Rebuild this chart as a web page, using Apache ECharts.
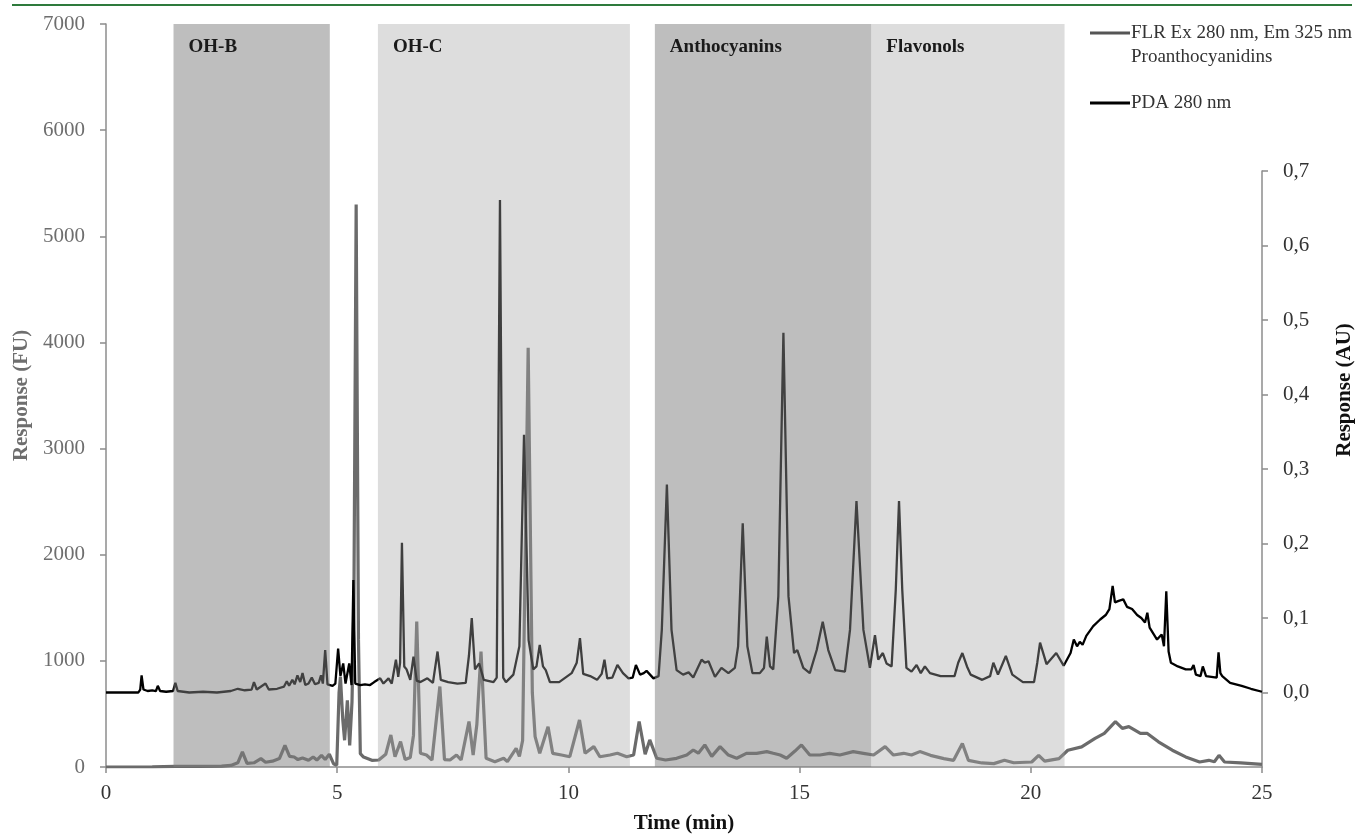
<!DOCTYPE html>
<html>
<head>
<meta charset="utf-8">
<script src="https://cdn.jsdelivr.net/npm/echarts@6/dist/echarts.min.js"></script>
<style>
  html, body { margin: 0; padding: 0; background: #fff; }
  #chart { width: 1364px; height: 839px; }
</style>
</head>
<body>
<div id="chart"></div>
<script>
// --- data ---
const bandNames = ['OH-B', 'OH-C', 'Anthocyanins', 'Flavonols'];
const bandStart = [1.46, 5.88, 11.87, 16.55];
const bandEnd = [4.84, 11.33, 16.55, 20.73];

const leftTicks = [0, 1000, 2000, 3000, 4000, 5000, 6000, 7000];
const rightTicks = [0, 0.1, 0.2, 0.3, 0.4, 0.5, 0.6, 0.7];
const timeTicks = [0, 5, 10, 15, 20, 25];

// FLR Ex 280 / Em 325 nm, [time min, response FU]
const flrPoints = [
  [0, 0], [1.0, 2], [1.5, 5], [2.0, 6], [2.5, 8], [2.7, 15], [2.85, 40], [2.95, 142],
  [3.05, 35], [3.2, 40], [3.35, 79], [3.45, 45], [3.6, 55], [3.75, 80], [3.87, 204],
  [3.97, 100], [4.07, 94], [4.15, 70], [4.25, 85], [4.38, 63], [4.48, 94], [4.56, 65],
  [4.66, 110], [4.74, 70], [4.83, 120], [4.92, 31], [4.99, 16], [5.04, 700], [5.07, 850],
  [5.12, 450], [5.16, 252], [5.22, 629], [5.27, 204], [5.32, 613], [5.36, 1500],
  [5.41, 5300], [5.46, 1200], [5.5, 126], [5.57, 94], [5.75, 63], [5.9, 66], [6.05, 120],
  [6.16, 302], [6.25, 97], [6.37, 239], [6.47, 70], [6.58, 90], [6.65, 300], [6.72, 1371],
  [6.8, 129], [6.93, 113], [7.05, 66], [7.22, 758], [7.32, 70], [7.44, 66], [7.58, 113],
  [7.68, 66], [7.85, 428], [7.94, 113], [8.02, 400], [8.11, 1088], [8.22, 82], [8.41, 50],
  [8.6, 82], [8.68, 50], [8.87, 176], [8.94, 100], [9.01, 250], [9.13, 3950], [9.22, 700],
  [9.28, 286], [9.38, 129], [9.56, 380], [9.66, 129], [9.85, 113], [10.03, 97],
  [10.24, 443], [10.36, 129], [10.55, 192], [10.68, 97], [10.9, 113], [11.06, 129],
  [11.26, 97], [11.41, 113], [11.53, 428], [11.66, 120], [11.76, 255], [11.91, 82],
  [12.1, 66], [12.34, 82], [12.56, 113], [12.7, 160], [12.81, 130], [12.95, 208],
  [13.1, 100], [13.28, 192], [13.46, 113], [13.64, 82], [13.85, 129], [14.07, 129],
  [14.29, 145], [14.43, 129], [14.58, 113], [14.72, 82], [14.9, 150], [15.04, 208],
  [15.22, 113], [15.44, 113], [15.65, 129], [15.87, 113], [16.16, 145], [16.38, 129],
  [16.6, 113], [16.85, 192], [17.03, 113], [17.25, 129], [17.42, 113], [17.6, 145],
  [17.83, 110], [18.12, 79], [18.33, 63], [18.52, 221], [18.65, 63], [18.94, 38],
  [19.2, 32], [19.43, 63], [19.63, 40], [20.02, 47], [20.17, 110], [20.3, 55],
  [20.61, 79], [20.8, 158], [21.1, 190], [21.39, 269], [21.59, 316], [21.83, 427],
  [21.98, 364], [22.12, 380], [22.37, 316], [22.52, 316], [22.76, 237], [23.06, 158],
  [23.35, 95], [23.65, 47], [23.85, 63], [23.97, 50], [24.07, 110], [24.19, 47],
  [24.54, 38], [25, 25]
];

// PDA 280 nm, [time min, response AU]
const pdaPoints = [
  [0, 0.0], [0.70, 0.0], [0.74, 0.004], [0.77, 0.023], [0.81, 0.004], [0.9, 0.002],
  [1.0, 0.003], [1.08, 0.002], [1.12, 0.009], [1.17, 0.002], [1.3, 0.001], [1.45, 0.002],
  [1.5, 0.013], [1.55, 0.002], [1.8, 0.0], [2.1, 0.001], [2.4, 0.0], [2.7, 0.002],
  [2.85, 0.005], [3.0, 0.003], [3.15, 0.004], [3.2, 0.014], [3.26, 0.004], [3.45, 0.012],
  [3.52, 0.004], [3.7, 0.005], [3.85, 0.008], [3.91, 0.015], [3.96, 0.009], [4.03, 0.017],
  [4.08, 0.011], [4.14, 0.023], [4.2, 0.014], [4.25, 0.026], [4.31, 0.010], [4.38, 0.012],
  [4.45, 0.020], [4.52, 0.011], [4.6, 0.013], [4.65, 0.023], [4.69, 0.012], [4.74, 0.057],
  [4.79, 0.011], [4.9, 0.009], [4.96, 0.012], [5.02, 0.059], [5.07, 0.022], [5.13, 0.039],
  [5.18, 0.012], [5.26, 0.039], [5.31, 0.010], [5.35, 0.151], [5.39, 0.012], [5.5, 0.010],
  [5.6, 0.011], [5.71, 0.010], [5.8, 0.014], [5.93, 0.019], [6.0, 0.012], [6.11, 0.019],
  [6.18, 0.012], [6.27, 0.044], [6.32, 0.021], [6.36, 0.04], [6.40, 0.201], [6.45, 0.035],
  [6.5, 0.031], [6.58, 0.017], [6.65, 0.048], [6.72, 0.016], [6.8, 0.014], [6.95, 0.019],
  [7.07, 0.013], [7.17, 0.055], [7.24, 0.017], [7.4, 0.014], [7.6, 0.012], [7.78, 0.013],
  [7.85, 0.05], [7.91, 0.100], [7.98, 0.031], [8.07, 0.039], [8.17, 0.017], [8.38, 0.014],
  [8.45, 0.02], [8.52, 0.661], [8.59, 0.02], [8.65, 0.014], [8.81, 0.024], [8.94, 0.062],
  [9.04, 0.346], [9.14, 0.07], [9.24, 0.031], [9.31, 0.035], [9.38, 0.064], [9.45, 0.035],
  [9.51, 0.030], [9.6, 0.014], [9.8, 0.014], [10.07, 0.026], [10.18, 0.04], [10.25, 0.073],
  [10.32, 0.025], [10.47, 0.022], [10.62, 0.017], [10.72, 0.025], [10.78, 0.044],
  [10.84, 0.019], [10.95, 0.02], [11.06, 0.037], [11.18, 0.026], [11.3, 0.019],
  [11.39, 0.02], [11.46, 0.037], [11.55, 0.024], [11.63, 0.026], [11.69, 0.029],
  [11.84, 0.019], [11.95, 0.022], [12.02, 0.084], [12.13, 0.279], [12.23, 0.084],
  [12.34, 0.030], [12.48, 0.024], [12.6, 0.027], [12.7, 0.02], [12.88, 0.044],
  [12.95, 0.04], [13.03, 0.042], [13.17, 0.021], [13.31, 0.033], [13.46, 0.026],
  [13.6, 0.033], [13.67, 0.062], [13.77, 0.227], [13.87, 0.062], [13.98, 0.026],
  [14.14, 0.026], [14.23, 0.033], [14.29, 0.075], [14.36, 0.035], [14.43, 0.031],
  [14.54, 0.129], [14.65, 0.483], [14.76, 0.129], [14.88, 0.053], [14.95, 0.057],
  [15.08, 0.033], [15.22, 0.026], [15.37, 0.057], [15.5, 0.095], [15.62, 0.057],
  [15.77, 0.030], [15.98, 0.028], [16.09, 0.084], [16.23, 0.257], [16.38, 0.084],
  [16.52, 0.033], [16.63, 0.077], [16.7, 0.044], [16.8, 0.053], [16.88, 0.039],
  [16.99, 0.035], [17.08, 0.138], [17.15, 0.257], [17.22, 0.138], [17.31, 0.033],
  [17.42, 0.028], [17.53, 0.037], [17.62, 0.026], [17.71, 0.035], [17.82, 0.026],
  [18.05, 0.022], [18.35, 0.022], [18.43, 0.04], [18.52, 0.053], [18.62, 0.035],
  [18.7, 0.024], [18.95, 0.017], [19.12, 0.022], [19.19, 0.040], [19.29, 0.024],
  [19.46, 0.049], [19.6, 0.024], [19.83, 0.014], [20.07, 0.014], [20.14, 0.04],
  [20.2, 0.067], [20.34, 0.038], [20.55, 0.053], [20.71, 0.036], [20.86, 0.053],
  [20.93, 0.071], [21.0, 0.062], [21.06, 0.068], [21.12, 0.064], [21.2, 0.076],
  [21.35, 0.089], [21.5, 0.098], [21.62, 0.104], [21.7, 0.112], [21.77, 0.143],
  [21.82, 0.121], [21.9, 0.123], [22.0, 0.125], [22.08, 0.115], [22.19, 0.112],
  [22.3, 0.104], [22.39, 0.1], [22.47, 0.094], [22.52, 0.107], [22.57, 0.087],
  [22.66, 0.078], [22.73, 0.071], [22.83, 0.078], [22.88, 0.062], [22.93, 0.136],
  [22.98, 0.055], [23.03, 0.040], [23.18, 0.035], [23.35, 0.031], [23.47, 0.031],
  [23.52, 0.037], [23.57, 0.024], [23.67, 0.022], [23.72, 0.035], [23.79, 0.022],
  [24.02, 0.020], [24.06, 0.054], [24.1, 0.026], [24.14, 0.022], [24.31, 0.013],
  [24.56, 0.009], [24.76, 0.005], [25.0, 0.001]
];

// --- styling ---
const SERIF = '"Liberation Serif", "DejaVu Serif", serif';
const axisGrey = '#8c8c8c';
const darkBand = 'rgba(127,127,127,0.51)';
const lightBand = 'rgba(165,165,165,0.38)';
const bandFills = [darkBand, lightBand, darkBand, lightBand];

const chart = echarts.init(document.getElementById('chart'), null, { renderer: 'canvas' });

// shaded regions drawn on top of the traces, like the original
function renderBand(params, api) {
  const i = params.dataIndex;
  const tl = api.coord([api.value(0), api.value(2)]);
  const br = api.coord([api.value(1), 0]);
  return {
    type: 'group',
    children: [
      {
        type: 'rect',
        shape: { x: tl[0], y: tl[1], width: br[0] - tl[0], height: br[1] - tl[1] },
        style: { fill: bandFills[i] }
      },
      {
        type: 'text',
        x: tl[0] + 15,
        y: tl[1] + 23,
        style: {
          text: bandNames[i],
          font: 'bold 19px ' + SERIF,
          fill: '#1a1a1a',
          verticalAlign: 'middle'
        }
      }
    ]
  };
}

const option = {
  animation: false,
  backgroundColor: '#fff',
  grid: [
    { left: 106, right: 102, top: 24, bottom: 72 },
    { left: 106, right: 102, top: 171, bottom: 72 }
  ],
  xAxis: [
    {
      type: 'value', gridIndex: 0, min: 0, max: 25, interval: 5,
      name: 'Time (min)', nameLocation: 'middle', nameGap: 46,
      nameTextStyle: { fontFamily: SERIF, fontWeight: 'bold', fontSize: 21, color: '#111' },
      axisLine: { show: true, onZero: false, lineStyle: { color: axisGrey, width: 1.5 } },
      axisTick: { show: true, length: 6, lineStyle: { color: axisGrey, width: 1.5 }, customValues: timeTicks },
      axisLabel: { fontFamily: SERIF, fontSize: 21, color: '#333', margin: 16, customValues: timeTicks },
      splitLine: { show: false }
    },
    {
      type: 'value', gridIndex: 1, min: 0, max: 25, show: false
    }
  ],
  yAxis: [
    {
      type: 'value', gridIndex: 0, min: 0, max: 7000, interval: 1000,
      name: 'Response (FU)', nameLocation: 'middle', nameGap: 73,
      nameTextStyle: { fontFamily: SERIF, fontWeight: 'bold', fontSize: 21, color: '#6e6e6e' },
      axisLine: { show: true, onZero: false, lineStyle: { color: axisGrey, width: 1.5 } },
      axisTick: { show: true, length: 6, lineStyle: { color: axisGrey, width: 1.5 }, customValues: leftTicks },
      axisLabel: {
        fontFamily: SERIF, fontSize: 21, color: '#6e6e6e', margin: 21, customValues: leftTicks,
        formatter: v => String(Math.round(v))
      },
      splitLine: { show: false }
    },
    {
      type: 'value', gridIndex: 1, position: 'right', min: -0.1, max: 0.7, interval: 0.1,
      axisLine: { show: true, onZero: false, lineStyle: { color: axisGrey, width: 1.5 } },
      axisTick: { show: true, length: 6, lineStyle: { color: axisGrey, width: 1.5 }, customValues: rightTicks },
      axisLabel: {
        fontFamily: SERIF, fontSize: 21, color: '#333', margin: 21, customValues: rightTicks,
        formatter: v => (v < -1e-9 ? '' : v.toFixed(1).replace('.', ','))
      },
      splitLine: { show: false }
    }
  ],
  series: [
    {
      name: 'FLR Ex 280 nm, Em 325 nm Proanthocyanidins',
      type: 'line', xAxisIndex: 0, yAxisIndex: 0,
      data: flrPoints, showSymbol: false, symbol: 'none', z: 2,
      lineStyle: { color: '#6b6b6b', width: 3.2 }
    },
    {
      name: 'PDA 280 nm',
      type: 'line', xAxisIndex: 1, yAxisIndex: 1,
      data: pdaPoints, showSymbol: false, symbol: 'none', z: 2,
      lineStyle: { color: '#000', width: 2.3 }
    },
    {
      type: 'custom', xAxisIndex: 0, yAxisIndex: 0, z: 5, silent: true,
      renderItem: renderBand,
      encode: { x: [0, 1], y: 2 },
      data: bandStart.map((s, i) => [s, bandEnd[i], 7000])
    }
  ],
  graphic: [
    // journal header rule
    { type: 'line', shape: { x1: 12, y1: 5, x2: 1352, y2: 5 }, style: { stroke: '#2e7a3c', lineWidth: 2 } },
    // legend
    { type: 'line', shape: { x1: 1090, y1: 33, x2: 1130, y2: 33 }, style: { stroke: '#555', lineWidth: 3 } },
    { type: 'text', x: 1131, y: 33, style: { text: 'FLR Ex 280 nm, Em 325 nm', font: '19px ' + SERIF, fill: '#333', verticalAlign: 'middle' } },
    { type: 'text', x: 1131, y: 57, style: { text: 'Proanthocyanidins', font: '19px ' + SERIF, fill: '#333', verticalAlign: 'middle' } },
    { type: 'line', shape: { x1: 1090, y1: 103, x2: 1130, y2: 103 }, style: { stroke: '#000', lineWidth: 3 } },
    { type: 'text', x: 1131, y: 103, style: { text: 'PDA 280 nm', font: '19px ' + SERIF, fill: '#333', verticalAlign: 'middle' } },
    // right axis title
    {
      type: 'text', x: 1345, y: 390, rotation: Math.PI / 2,
      style: { text: 'Response (AU)', font: 'bold 21px ' + SERIF, fill: '#111', align: 'center', verticalAlign: 'middle' }
    }
  ]
};

chart.setOption(option);
</script>
</body>
</html>
